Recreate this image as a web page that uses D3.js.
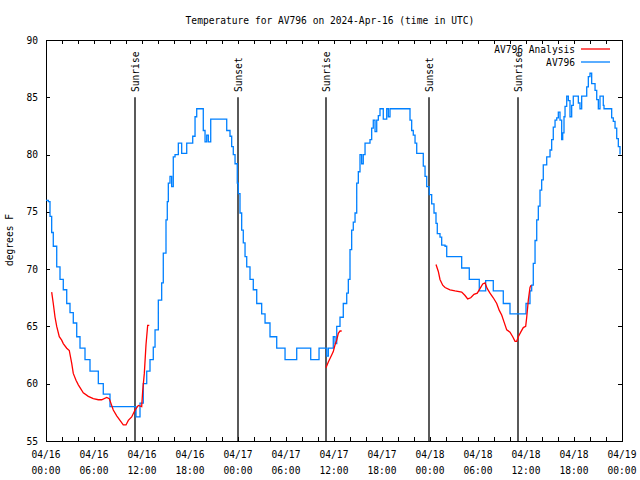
<!DOCTYPE html>
<html>
<head>
<meta charset="utf-8">
<script src="https://cdn.jsdelivr.net/npm/d3@7"></script>
<style>
html,body{margin:0;padding:0;background:#fff;}
svg{display:block;}
text{font-family:"DejaVu Sans Mono","Liberation Mono",monospace;font-size:9.6px;fill:#000;}
</style>
</head>
<body>
<svg id="chart" width="640" height="480"></svg>
<script>
// ---- data (hours since 2024-04-16 00:00 UTC) ----
const titleText = "Temperature for AV796 on 2024-Apr-16 (time in UTC)";
const yLabel = "degrees F";
const yTicks = [55, 60, 65, 70, 75, 80, 85, 90];
const xTickHours = [0, 6, 12, 18, 24, 30, 36, 42, 48, 54, 60, 66, 72];
const xTickDates = ["04/16","04/16","04/16","04/16","04/17","04/17","04/17","04/17","04/18","04/18","04/18","04/18","04/19"];
const xTickTimes = ["00:00","06:00","12:00","18:00","00:00","06:00","12:00","18:00","00:00","06:00","12:00","18:00","00:00"];

const sunHours = [11.125, 24.0, 35.0, 47.875, 59.0];
const sunLabels = ["Sunrise", "Sunset", "Sunrise", "Sunset", "Sunrise"];

const seriesNames = ["AV796 Analysis", "AV796"];

const obsHours = [0,0.29,0.5,0.71,0.91,1.34,1.75,2.16,2.59,3.0,3.41,3.84,4.25,4.875,5.5,6.54,7.16,8.0,10.91,11.25,11.75,12.16,12.59,13.0,13.41,13.63,14.04,14.46,14.66,15.0,15.16,15.29,15.5,15.71,15.91,16.13,16.54,16.96,17.59,18.34,18.63,18.84,19.34,19.66,19.88,20.09,20.29,20.59,22.29,22.59,23.0,23.21,23.41,23.63,23.91,24.04,24.25,24.46,24.66,24.88,25.09,25.5,25.91,26.34,26.96,27.38,28.0,28.84,29.66,29.88,30.71,31.34,32.79,33.09,33.75,34.13,34.96,35.09,35.29,35.84,35.91,36.13,36.34,36.75,37.16,37.59,37.79,38.0,38.21,38.41,38.63,38.84,39.04,39.25,39.46,39.66,39.88,40.5,40.71,40.91,41.13,41.34,41.54,41.75,42.16,42.38,42.59,42.79,43.0,45.09,45.5,45.71,45.91,46.13,46.34,46.96,47.16,47.38,47.59,47.91,48.21,48.5,48.75,48.91,49.25,49.46,49.88,50.09,51.88,51.96,52.79,52.91,53.91,54.16,54.75,54.96,55.75,55.91,56.96,57.16,57.91,58.0,59.91,60.0,60.34,60.5,60.71,60.91,61.13,61.34,61.54,61.75,61.96,62.16,62.38,62.59,63.0,63.21,63.41,63.63,63.84,64.04,64.25,64.46,64.59,64.75,64.88,65.09,65.29,65.5,65.71,65.91,66.34,66.54,66.75,66.96,67.38,67.59,67.79,68.0,68.21,68.41,68.63,68.84,69.04,69.25,69.46,69.66,69.75,70.5,70.71,70.91,71.13,71.34,71.54,71.75];
const obsTemps = [76.0,75.9,74.6,73.2,72.0,70.2,69.1,68.2,67.0,66.2,65.3,64.1,63.1,62.1,61.1,60.0,59.1,58.0,58.0,57.1,58.3,60.0,61.1,62.1,63.2,64.7,67.3,68.8,71.4,74.3,75.9,77.5,78.1,77.2,79.8,80.0,81.0,80.1,81.0,81.6,83.3,84.0,84.0,82.1,81.1,81.7,81.1,83.1,83.1,82.1,81.6,80.7,80.0,79.2,77.5,76.6,74.9,73.4,72.3,71.1,70.2,69.1,68.2,67.0,66.1,65.3,64.1,63.1,63.1,62.1,62.1,63.1,63.1,62.1,62.1,63.1,63.1,62.4,63.1,63.1,64.1,63.5,65.0,65.8,67.0,67.9,69.1,71.7,73.4,74.1,74.9,77.5,78.5,80.0,79.2,80.0,81.0,81.3,82.3,83.0,82.0,83.0,83.4,84.0,83.1,83.1,84.0,83.3,84.0,84.0,83.0,82.1,81.7,81.0,80.1,80.1,79.0,78.1,77.2,76.5,75.7,74.9,74.0,73.1,72.8,72.1,72.0,71.1,71.1,70.1,70.1,69.1,69.1,68.1,68.1,69.0,69.0,68.1,68.1,67.0,67.0,66.1,66.1,67.0,67.0,68.1,68.6,70.5,72.5,74.3,75.5,76.9,77.8,79.1,79.1,79.8,80.4,81.3,82.4,83.0,83.2,83.7,83.0,81.3,81.9,83.3,84.2,85.1,84.7,83.3,84.3,85.1,85.1,84.5,84.0,85.1,85.1,85.9,86.8,87.1,86.2,86.2,85.6,84.8,84.0,85.1,85.1,84.3,84.0,84.0,83.2,82.9,82.3,81.4,80.7,80.0];

// analysis series, null marks a gap
const anaHours = [0.71,0.91,1.13,1.34,1.66,1.96,2.16,2.59,2.91,3.21,3.41,3.75,4.04,4.66,5.29,5.91,6.54,6.96,7.59,7.91,8.41,8.84,9.25,9.66,10.0,10.29,10.71,11.13,11.54,11.96,12.09,12.29,12.5,12.71,12.91,
  null,
  35.0,35.29,35.5,35.71,35.91,36.13,36.34,36.54,36.75,36.96,
  null,
  48.75,49.04,49.25,49.59,49.88,50.5,51.13,51.96,52.38,52.71,53.09,53.5,53.91,54.25,54.59,54.88,55.16,55.5,55.91,56.34,56.66,56.96,57.25,57.59,58.0,58.34,58.63,58.84,59.04,59.34,59.66,59.96,60.09,60.29,60.5,60.63];
const anaTemps = [68.0,67.0,65.8,65.0,64.1,63.8,63.5,63.1,62.9,61.8,60.9,60.3,59.9,59.2,58.9,58.7,58.6,58.6,58.8,58.7,57.7,57.2,56.8,56.4,56.4,56.8,57.1,57.7,58.1,58.0,59.4,60.9,63.4,65.1,65.1,
  null,
  61.4,61.9,62.2,62.5,62.8,63.4,63.8,64.4,64.6,64.6,
  null,
  70.4,69.8,69.1,68.6,68.4,68.2,68.1,68.0,67.7,67.4,67.5,67.8,67.9,68.3,68.7,68.8,68.3,67.9,67.5,67.0,66.4,66.0,65.4,64.7,64.5,64.1,63.7,63.7,64.1,64.5,64.9,65.0,65.8,67.3,68.4,68.6];

const colors = {analysis: "#ff0000", obs: "#0080ff"};

// ---- layout ----
const L = 46, R = 622, T = 40, B = 441;
const svg = d3.select("#chart");
const x = d3.scaleLinear().domain([0, 72]).range([L, R]);
const y = d3.scaleLinear().domain([55, 90]).range([B, T]);

// title
svg.append("text").attr("x", 330).attr("y", 24).attr("text-anchor", "middle").text(titleText);

// y label
svg.append("text").attr("transform", "translate(13,240) rotate(-90)")
  .attr("text-anchor", "middle").text(yLabel);

// axes (ticks on all four sides, inward)
const minorHours = d3.range(0, 73, 2);
const axB = d3.axisBottom(x).tickValues(minorHours).tickSize(-4).tickFormat("");
const axT = d3.axisTop(x).tickValues(minorHours).tickSize(-4).tickFormat("");
const axL = d3.axisLeft(y).tickValues(yTicks).tickSize(-4).tickPadding(8).tickFormat(d3.format("d"));
const axR = d3.axisRight(y).tickValues(yTicks).tickSize(-4).tickFormat("");

function styleAxis(g){
  g.select(".domain").remove();
  g.selectAll("line").attr("stroke", "#000").attr("stroke-width", 1).attr("shape-rendering", "crispEdges");
  g.selectAll("text").style("font-family", '"DejaVu Sans Mono","Liberation Mono",monospace').style("font-size", "9.6px");
}
svg.append("g").attr("transform", `translate(0,${B})`).call(axB).call(styleAxis);
svg.append("g").attr("transform", `translate(0,${T})`).call(axT).call(styleAxis);
svg.append("g").attr("transform", `translate(${L},0)`).call(axL).call(styleAxis);
svg.append("g").attr("transform", `translate(${R},0)`).call(axR).call(styleAxis);

// x tick labels (two lines)
const xl = svg.append("g");
xTickHours.forEach((h, i) => {
  const t = xl.append("text").attr("x", x(h)).attr("y", 458).attr("text-anchor", "middle");
  t.append("tspan").attr("x", x(h)).attr("y", 458).text(xTickDates[i]);
  t.append("tspan").attr("x", x(h)).attr("y", 474).text(xTickTimes[i]);
});

// frame
svg.append("rect").attr("x", L).attr("y", T).attr("width", R - L).attr("height", B - T)
  .attr("fill", "none").attr("stroke", "#000").attr("stroke-width", 1).attr("shape-rendering", "crispEdges");

// sunrise / sunset lines
sunHours.forEach((h, i) => {
  svg.append("line").attr("x1", x(h)).attr("x2", x(h)).attr("y1", y(85)).attr("y2", y(55))
    .attr("stroke", "#000").attr("stroke-width", 1.3);
  svg.append("text").attr("transform", `translate(${x(h) + 4},92) rotate(-90)`)
    .attr("text-anchor", "start").text(sunLabels[i]);
});

// lines
const anaData = anaHours.map((h, i) => ({h, v: anaTemps[i]}));
const obsData = obsHours.map((h, i) => ({h, v: obsTemps[i]}));
const line = d3.line().defined(d => d.h != null && d.v != null).x(d => x(d.h)).y(d => y(d.v));
const stepLine = d3.line().curve(d3.curveStepAfter).x(d => x(d.h)).y(d => y(d.v));

svg.append("path").datum(obsData).attr("d", stepLine).attr("fill", "none")
  .attr("stroke", colors.obs).attr("stroke-width", 1.3).attr("stroke-linejoin", "miter");
svg.append("path").datum(anaData).attr("d", line).attr("fill", "none")
  .attr("stroke", colors.analysis).attr("stroke-width", 1.3).attr("stroke-linejoin", "miter");

// legend
const legendColors = [colors.analysis, colors.obs];
seriesNames.forEach((n, i) => {
  const ly = 49 + i * 13;
  svg.append("text").attr("x", 575).attr("y", ly + 3.5).attr("text-anchor", "end").text(n);
  svg.append("line").attr("x1", 581).attr("x2", 610).attr("y1", ly).attr("y2", ly)
    .attr("stroke", legendColors[i]).attr("stroke-width", 1.3);
});
</script>
</body>
</html>
